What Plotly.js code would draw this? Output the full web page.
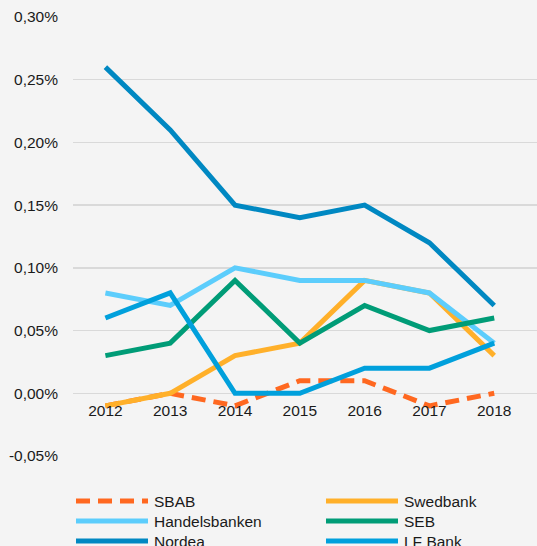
<!DOCTYPE html>
<html>
<head>
<meta charset="utf-8">
<script src="https://cdn.plot.ly/plotly-3.0.1.min.js"></script>
<style>
html,body{margin:0;padding:0;background:#f4f4f4;}
#chart{width:537px;height:546px;}
</style>
</head>
<body>
<div id="chart"></div>
<script>
// ---- data (percent) ----
var years = ['2012','2013','2014','2015','2016','2017','2018'];
var seriesNames = ['SBAB','Swedbank','Handelsbanken','SEB','Nordea','LF Bank'];
var sbab          = [-0.01, 0.00, -0.01, 0.01, 0.01, -0.01, 0.00];
var swedbank      = [-0.01, 0.00, 0.03, 0.04, 0.09, 0.08, 0.03];
var handelsbanken = [0.08, 0.07, 0.10, 0.09, 0.09, 0.08, 0.04];
var seb           = [0.03, 0.04, 0.09, 0.04, 0.07, 0.05, 0.06];
var nordea        = [0.26, 0.21, 0.15, 0.14, 0.15, 0.12, 0.07];
var lfbank        = [0.06, 0.08, 0.00, 0.00, 0.02, 0.02, 0.04];
var yTickVals     = [-0.05, 0.00, 0.05, 0.10, 0.15, 0.20, 0.25, 0.30];

// ---- styles ----
var colors = ['#ff6820','#ffb02a','#5ccdfc','#009c77','#0088c2','#00a0dc'];
var dashes = ['14px,8px','solid','solid','solid','solid','solid'];
var allValues = [sbab, swedbank, handelsbanken, seb, nordea, lfbank];

var W = 537, H = 546;
var M = {l:73, r:0, t:17, b:90};
var plotW = W - M.l - M.r, plotH = H - M.t - M.b;
function px2paperX(px){ return (px - M.l) / plotW; }
function px2paperY(py){ return (H - M.b - py) / plotH; }

var traces = seriesNames.map(function(name, i){
  return {
    type:'scatter', mode:'lines', name:name,
    x: years.map(function(_, k){ return k; }),
    y: allValues[i],
    line:{color:colors[i], width:5, dash:dashes[i]},
    showlegend:false, hoverinfo:'skip'
  };
});

// manual two-column legend built from names/colors
var shapes = [], annotations = [];
var colLine = [[76,148],[326,398]];
var rowY = [501,521,541];
seriesNames.forEach(function(name, i){
  var col = i % 2, row = Math.floor(i / 2);
  var y = px2paperY(rowY[row]);
  shapes.push({type:'line', xref:'paper', yref:'paper',
    x0:px2paperX(colLine[col][0]), x1:px2paperX(colLine[col][1]), y0:y, y1:y,
    line:{color:colors[i], width:5, dash:dashes[i]}});
  annotations.push({xref:'paper', yref:'paper', x:px2paperX(colLine[col][1]+4), y:y,
    xanchor:'left', yanchor:'middle', showarrow:false, text:name,
    font:{family:'Liberation Sans, Arial, sans-serif', size:15.5, color:'#1a1a1a'}});
});

var layout = {
  width:W, height:H,
  margin:M,
  paper_bgcolor:'#f4f4f4', plot_bgcolor:'#f4f4f4',
  separators:',.',
  font:{family:'Liberation Sans, Arial, sans-serif', size:15.5, color:'#1a1a1a'},
  showlegend:false,
  xaxis:{
    range:[-0.5, 6.66],
    tickmode:'array', tickvals:years.map(function(_, k){ return k; }), ticktext:years,
    showgrid:false, zeroline:false, showline:false, ticks:'',
    anchor:'free', position:(0 - yTickVals[0]) / (yTickVals[yTickVals.length-1] - yTickVals[0]),
    ticklabelstandoff:6,
    tickfont:{size:15.5, color:'#1a1a1a'}
  },
  yaxis:{
    range:[yTickVals[0], yTickVals[yTickVals.length-1]],
    tickmode:'array', tickvals:yTickVals,
    ticktext:yTickVals.map(function(v){ return v.toFixed(2).replace('.', ',') + '%'; }),
    showgrid:true, gridcolor:'#d9d9d9', gridwidth:1.5,
    zeroline:false, showline:false, ticks:'',
    ticklabelstandoff:14,
    tickfont:{size:15.5, color:'#1a1a1a'}
  },
  shapes:shapes,
  annotations:annotations
};

Plotly.newPlot('chart', traces, layout, {displayModeBar:false, staticPlot:true});
</script>
</body>
</html>
